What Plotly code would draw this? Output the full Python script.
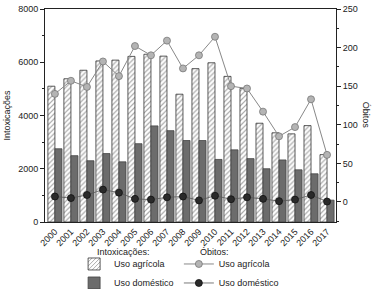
import plotly.graph_objects as go

years = list(range(2000, 2018))
intox_agricola = [5100, 5380, 5700, 6050, 6080, 6220, 6300, 6230, 4800, 5760,
                  5980, 5470, 5020, 3710, 3350, 3310, 3620, 2530]
intox_domestico = [2750, 2490, 2300, 2570, 2260, 2940, 3610, 3430, 3060, 3060,
                   2350, 2710, 2380, 2000, 2330, 1960, 1810, 820]
obitos_agricola = [140, 157, 149, 182, 163, 202, 190, 209, 173, 190,
                   214, 150, 147, 117, 85, 97, 133, 61]
obitos_domestico = [7, 5, 9, 16, 12, 4, 3, 6, 7, 2, 8, 3.5, 6, 4, 1, 3, 9, 0.5]

font = dict(family="Liberation Sans, Arial, sans-serif", size=9, color="#222")

fig = go.Figure()
fig.add_trace(go.Bar(
    x=years, y=intox_agricola, name="Uso agrícola", legend="legend",
    marker=dict(color="white", line=dict(color="#333", width=0.8),
                pattern=dict(shape="/", fgcolor="#555", bgcolor="white", size=3.5, solidity=0.35)),
))
fig.add_trace(go.Bar(
    x=years, y=intox_domestico, name="Uso doméstico", legend="legend",
    marker=dict(color="#6c6c6c", line=dict(color="#444", width=0.8)),
))
fig.add_trace(go.Scatter(
    x=years, y=obitos_agricola, name="Uso agrícola", yaxis="y2", legend="legend2",
    mode="lines+markers", line=dict(color="#888", width=1),
    marker=dict(size=7, color="#b4b4b4", line=dict(color="#777", width=0.8)),
))
fig.add_trace(go.Scatter(
    x=years, y=obitos_domestico, name="Uso doméstico", yaxis="y2", legend="legend2",
    mode="lines+markers", line=dict(color="#555", width=0.8),
    marker=dict(size=7, color="#2a2a2a", line=dict(color="#111", width=0.8)),
))

fig.update_layout(
    width=376, height=289,
    margin=dict(l=45, r=40, t=9, b=67, autoexpand=False),
    paper_bgcolor="white", plot_bgcolor="white",
    font=font,
    barmode="group", bargap=0.12, bargroupgap=0,
    xaxis=dict(range=[1999.38, 2017.56], tickvals=years, ticktext=[str(y) for y in years],
               tickangle=-45, showgrid=False, zeroline=False,
               showline=True, linecolor="#222", linewidth=1, mirror=True,
               ticks="", tickfont=dict(size=9), automargin=False),
    yaxis=dict(range=[0, 8000], dtick=2000, showgrid=False, zeroline=False,
               showline=True, linecolor="#222", linewidth=1,
               ticks="outside", ticklen=4, tickcolor="#222", automargin=False,
               minor=dict(dtick=1000, ticks="outside", ticklen=2, tickcolor="#222"),
               title=dict(text="Intoxicações", font=dict(size=9), standoff=6)),
    yaxis2=dict(range=[-26, 250], tick0=0, dtick=50, overlaying="y", side="right",
                showgrid=False, zeroline=False, showline=True, linecolor="#222", linewidth=1,
                ticks="outside", ticklen=4, tickcolor="#222", automargin=False,
                minor=dict(tick0=0, dtick=25, ticks="outside", ticklen=2, tickcolor="#222")),
    legend=dict(x=0.1, y=-0.129, xanchor="left", yanchor="top", orientation="v",
                font=dict(size=9), tracegroupgap=0, itemwidth=30,
                bgcolor="rgba(0,0,0,0)"),
    legend2=dict(x=0.46, y=-0.129, xanchor="left", yanchor="top", orientation="v",
                 font=dict(size=9), tracegroupgap=0, itemwidth=30,
                 bgcolor="rgba(0,0,0,0)"),
    annotations=[
        dict(text="Óbitos", x=1.13, y=0.5, xref="paper", yref="paper",
             textangle=90, showarrow=False, font=dict(size=9)),
        dict(text="Intoxicações:", x=0.172, y=-0.141, xref="paper", yref="paper",
             xanchor="left", yanchor="middle", showarrow=False, font=dict(size=9)),
        dict(text="Óbitos:", x=0.526, y=-0.141, xref="paper", yref="paper",
             xanchor="left", yanchor="middle", showarrow=False, font=dict(size=9)),
    ],
)

fig.write_html("out.html", config={"displayModeBar": False},
               post_script="document.body.style.margin='0';document.body.style.overflow='hidden';")
